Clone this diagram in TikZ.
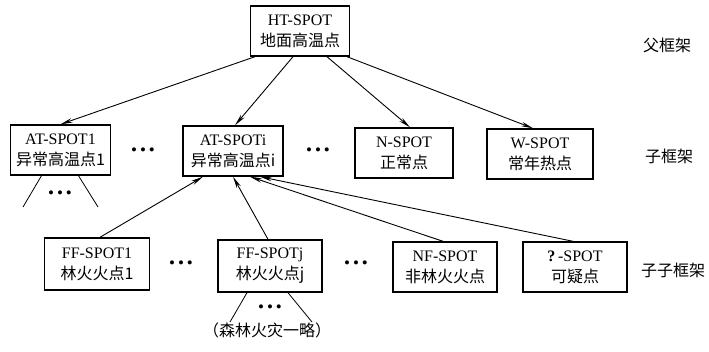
\documentclass[tikz,border=0pt]{standalone}
\usepackage{fontspec}
\setmainfont{Liberation Serif}
\newfontfamily\cjk{Noto Sans CJK SC}
\usetikzlibrary{arrows.meta}
\begin{document}
\begin{tikzpicture}[x=1pt,y=-1pt,
 box/.style={draw,line width=1.4pt,align=center,inner sep=0pt,minimum height=50pt,font=\fontsize{16}{21}\selectfont},
 link/.style={line width=0.9pt,-{Stealth[length=12pt,width=4.5pt]}},
 plain/.style={line width=0.8pt},
 dots/.style={inner sep=0pt,font=\fontsize{17}{17}\selectfont},
 side/.style={anchor=west,inner sep=0pt,font=\cjk\fontsize{16}{16}\selectfont}]
\useasboundingbox (0,0) rectangle (709,351);
% boxes
\node[box,minimum width=99pt] (top) at (300,31) {HT-SPOT\\{\cjk 地面高温点}};
\node[box,minimum width=100pt] (at1) at (60.5,150) {AT-SPOT1\\{\cjk 异常高温点1}};
\node[box,minimum width=100pt] (ati) at (233,151) {AT-SPOTi\\{\cjk 异常高温点i}};
\node[box,minimum width=98pt] (n) at (404,153) {N-SPOT\\{\cjk 正常点}};
\node[box,minimum width=106pt] (w) at (540,154) {W-SPOT\\{\cjk 常年热点}};
\node[box,minimum width=105pt,minimum height=52pt] (ff1) at (97,264) {FF-SPOT1\\{\cjk 林火火点1}};
\node[box,minimum width=104pt,minimum height=52pt] (ffj) at (270,266) {FF-SPOTj\\{\cjk 林火火点j}};
\node[box,minimum width=104pt] (nf) at (445,267) {NF-SPOT\\{\cjk 非林火火点}};
\node[box,minimum width=104pt] (q) at (575,267) {\textbf{?}\,-SPOT\\{\cjk 可疑点}};
% dots
\node[dots] (d1) at (143,152) {\textbullet\,\textbullet\,\textbullet};
\node[dots] (d2) at (318,152) {\textbullet\,\textbullet\,\textbullet};
\node[dots] (d3) at (181,265) {\textbullet\,\textbullet\,\textbullet};
\node[dots] (d4) at (356,265) {\textbullet\,\textbullet\,\textbullet};
\node[dots] (d5) at (60,195) {\textbullet\,\textbullet\,\textbullet};
\node[dots] (d6) at (270,309) {\textbullet\,\textbullet\,\textbullet};
\node[inner sep=0pt,font=\cjk\fontsize{16}{16}\selectfont] (omit) at (267,330) {（森林火灾一略）};
% side labels
\node[side] (l1) at (643,45) {父框架};
\node[side] (l2) at (645,156) {子框架};
\node[side] (l3) at (641,270) {子子框架};
% connectors level 2
\draw[link] ([xshift=-45pt]top.south) -- (at1.north);
\draw[link] ([xshift=-7pt]top.south) -- ([xshift=2pt]ati.north);
\draw[link] ([xshift=27pt]top.south) -- ([xshift=6pt]n.north);
\draw[link] ([xshift=47pt]top.south) -- ([xshift=-7pt]w.north);
% connectors level 3
\draw[link] ([xshift=3pt]ff1.north) -- ([xshift=-30pt]ati.south);
\draw[link] ([xshift=-2pt]ffj.north) -- (ati.south);
\draw[link] ([xshift=-2pt]nf.north) -- ([xshift=17pt]ati.south);
\draw[link] ([xshift=-2pt]q.north) -- ([xshift=27pt]ati.south);
% omitted branches
\coordinate (a1) at (23,207);
\coordinate (a2) at (98,207);
\coordinate (b1) at (230,322);
\coordinate (b2) at (312,322);
\draw[plain] ([xshift=-19pt]at1.south) -- (a1);
\draw[plain] ([xshift=18pt]at1.south) -- (a2);
\draw[plain] ([xshift=-23pt]ffj.south) -- (b1);
\draw[plain] ([xshift=18pt]ffj.south) -- (b2);
\end{tikzpicture}
\end{document}
